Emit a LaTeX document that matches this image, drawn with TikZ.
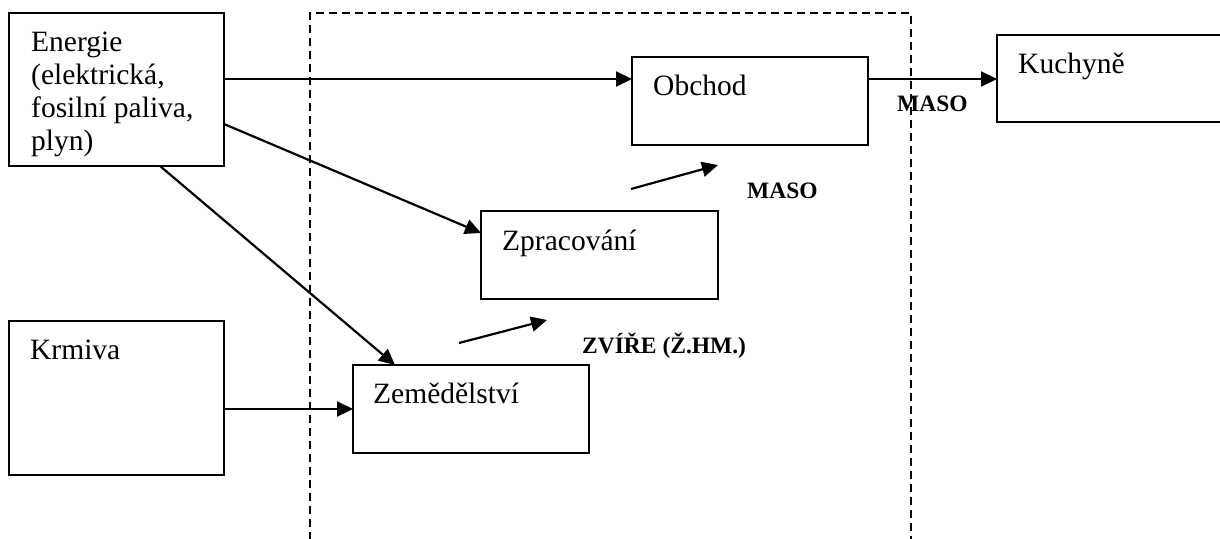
\documentclass[tikz,border=0pt]{standalone}
\usepackage{fontspec}
\setmainfont{Liberation Serif}
\usetikzlibrary{arrows.meta,calc}
\begin{document}
\begin{tikzpicture}[x=1pt,y=-1pt,
  box/.style={draw,line width=2.2pt,inner sep=0pt,outer sep=0pt,anchor=north west},
  txt/.style={inner sep=0pt,anchor=base west,font=\fontsize{29.5}{33}\selectfont,align=left},
  lbl/.style={inner sep=0pt,anchor=base west,font=\fontsize{23.5}{26}\selectfont\bfseries},
  arr/.style={line width=2.2pt,-{Triangle[length=16pt,width=15pt]}},
  region/.style={line width=2.4pt,dash pattern=on 8pt off 5pt}]
\useasboundingbox (0,0) rectangle (1220,538);

% dashed system boundary
\coordinate (r1) at (310,540);
\coordinate (r2) at (310,13);
\coordinate (r3) at (911,13);
\coordinate (r4) at (911,540);
\draw[region] (r1) -- (r2) -- (r3) -- (r4);

% boxes
\node[box,minimum width=215pt,minimum height=153pt] (energie) at (9,13) {};
\node[box,minimum width=215pt,minimum height=154pt] (krmiva) at (9,321) {};
\node[box,minimum width=236pt,minimum height=88pt] (obchod) at (632,57) {};
\node[box,minimum width=260pt,minimum height=87pt] (kuchyne) at (997,35) {};
\node[box,minimum width=237pt,minimum height=88pt] (zprac) at (481,211) {};
\node[box,minimum width=236pt,minimum height=88pt] (zemed) at (353,365) {};

% box texts
\node[txt] (energieT) at ($(energie.north west)+(22,137)$) {Energie\\(elektrická,\\fosilní paliva,\\plyn)};
\node[txt] (krmivaT) at ($(krmiva.north west)+(21,38)$) {Krmiva};
\node[txt] (obchodT) at ($(obchod.north west)+(21,38)$) {Obchod};
\node[txt] (kuchyneT) at ($(kuchyne.north west)+(21,38)$) {Kuchyně};
\node[txt] (zpracT) at ($(zprac.north west)+(21,39)$) {Zpracování};
\node[txt] (zemedT) at ($(zemed.north west)+(20,38)$) {Zemědělství};

% flow labels
\node[lbl] (maso1) at (747,198) {MASO};
\node[lbl] (maso2) at (897,111) {MASO};
\node[lbl] (zvire) at (582,353) {ZVÍŘE (Ž.HM.)};

% connectors
\draw[arr] ($(energie.north east)+(0,66)$) -- ($(obchod.north west)+(0,22)$);
\coordinate (ok) at ($(obchod.north east)+(0,22)$);
\draw[arr] (ok) -- (kuchyne.west |- ok);
\draw[arr] ($(energie.north east)+(0,111)$) -- ($(zprac.north west)+(0,22)$);
\draw[arr] ($(energie.south west)+(151,0)$) -- ($(zemed.north west)+(42,0)$);
\draw[arr] (krmiva.east |- zemed.west) -- (zemed.west);

% free flow arrows
\coordinate (f1a) at (631,189);
\coordinate (f1b) at (718,165);
\coordinate (f2a) at (459,343);
\coordinate (f2b) at (547,320);
\draw[arr] (f1a) -- (f1b);
\draw[arr] (f2a) -- (f2b);
\end{tikzpicture}
\end{document}
